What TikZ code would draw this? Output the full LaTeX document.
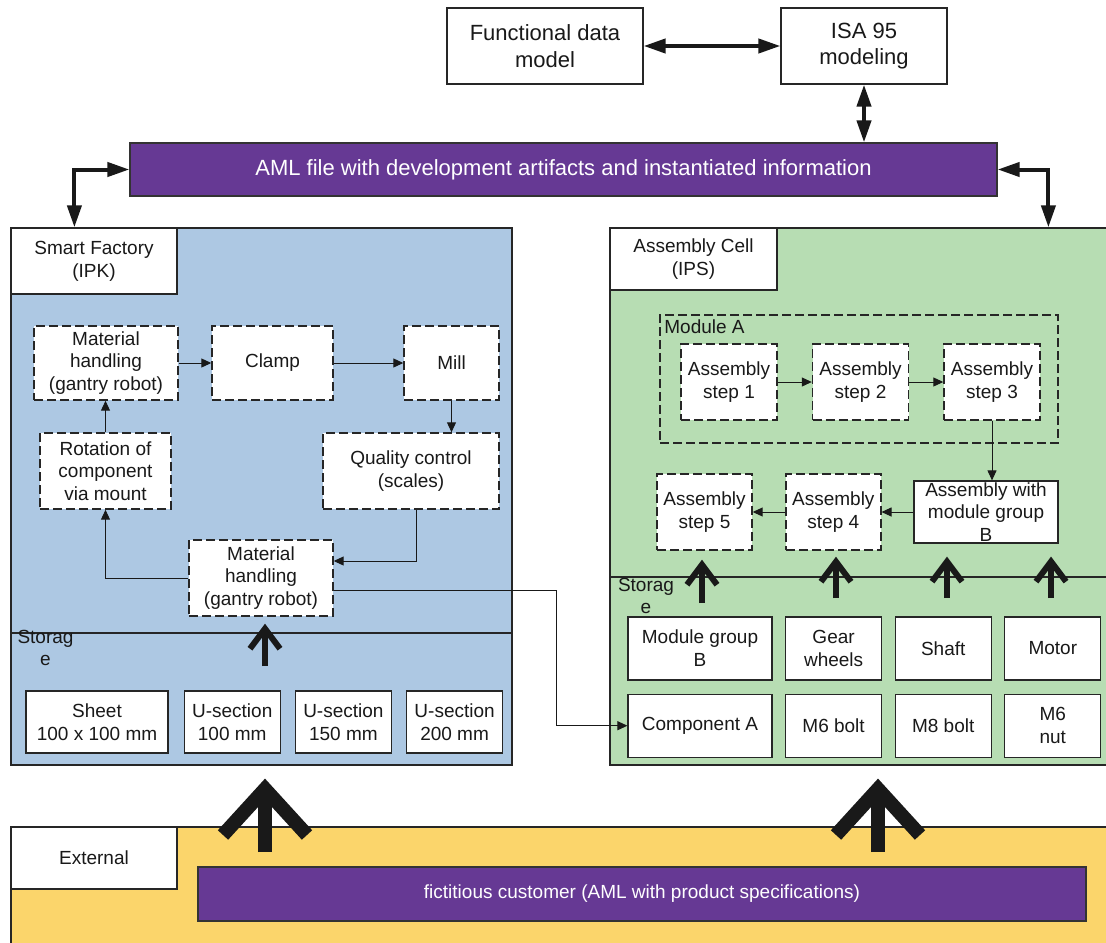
\documentclass[tikz,border=0pt]{standalone}
\usepackage{fontspec}
\setmainfont{Liberation Sans}
\usetikzlibrary{arrows.meta, positioning}
\definecolor{factoryblue}{RGB}{173,200,227}
\definecolor{cellgreen}{RGB}{183,221,179}
\definecolor{extyellow}{RGB}{251,213,107}
\definecolor{amlpurple}{RGB}{102,57,148}

\begin{document}
\begin{tikzpicture}[
    x=0.5pt, y=-0.5pt,
    node distance=7pt,
    font=\fontsize{9.5}{11.4}\selectfont,
    box/.style={rectangle, draw=black!85, fill=white, line width=0.6pt, align=center, inner sep=0pt, text=black!90},
    proc/.style={box, dash pattern=on 4.5pt off 2pt, line width=0.7pt},
    panel/.style={rectangle, draw=black!85, line width=0.6pt, inner sep=0pt},
    amlbar/.style={rectangle, draw=black!80, fill=amlpurple, text=white, line width=0.6pt, inner sep=0pt},
    bigfont/.style={font=\fontsize{11}{13.2}\selectfont},
    flowarr/.style={-{Triangle[length=5pt,width=4.5pt]}, line width=0.5pt, draw=black!90},
    linkarr/.style={{Triangle[length=11pt,width=7pt]}-{Triangle[length=11pt,width=7pt]}, line width=2pt, draw=black!90},
    feedarr/.style={-{Straight Barb[sharp,length=10pt,width=15pt]}, line width=3pt, draw=black!90},
    supplyarr/.style={-{Straight Barb[sharp,length=23pt,width=42pt]}, line width=7pt, draw=black!90}
]
    \useasboundingbox (0,0) rectangle (1106,942);

    % panels
    \node[panel, fill=factoryblue, minimum width=250.5pt, minimum height=268.5pt] (sf) at (261.5,496.5) {};
    \node[box, minimum width=83pt, minimum height=33pt, anchor=north west] (sflabel) at (sf.north west) {Smart Factory\\(IPK)};
    \draw[black!85, line width=0.6pt] (11,633) -- (512,633);
    \node[align=center, inner sep=0pt, text=black!90] (sfstore) at (45.5,648) {Storag\\e};

    \node[panel, fill=cellgreen, minimum width=250pt, minimum height=268.5pt] (ac) at (860,496.5) {};
    \node[box, minimum width=83.5pt, minimum height=31pt, anchor=north west] (aclabel) at (ac.north west) {Assembly Cell\\(IPS)};
    \draw[black!85, line width=0.6pt] (610,577) -- (1110,577);
    \node[align=center, inner sep=0pt, text=black!90] (acstore) at (646,596) {Storag\\e};

    \node[panel, fill=extyellow, minimum width=549.5pt, minimum height=59.5pt] (ext) at (560.5,886.5) {};
    \node[box, minimum width=83pt, minimum height=31pt, anchor=north west] (extlabel) at (ext.north west) {External};
    \node[amlbar, minimum width=444pt, minimum height=27pt] (customer) at (642,894) {fictitious customer (AML with product specifications)};

    % top
    \node[box, bigfont, minimum width=98pt, minimum height=38pt] (fdm) at (545,46) {Functional data\\model};
    \node[box, bigfont, minimum width=83pt, minimum height=38pt] (isa) at (864,46) {ISA 95\\modeling};
    \node[amlbar, bigfont, minimum width=433.5pt, minimum height=26.5pt] (aml) at (563.5,169.5) {AML file with development artifacts and instantiated information};

    \draw[linkarr] (fdm.east) -- (isa.west);
    \draw[linkarr] (isa.south) -- (isa.south |- aml.north);
    \draw[linkarr] (aml.west) -| ([xshift=32pt]sf.north west);
    \draw[linkarr] (aml.east) -| ([xshift=219.5pt]ac.north west);

    % smart factory
    \node[proc, minimum width=72pt, minimum height=37pt] (mh1) at (106,363) {Material\\handling\\(gantry robot)};
    \node[proc, minimum width=60.5pt, minimum height=37pt] (clamp) at (272.5,363) {Clamp};
    \node[proc, minimum width=47.5pt, minimum height=37pt] (mill) at (451.5,363) {Mill};
    \node[proc, minimum width=65.5pt, minimum height=38pt] (rot) at (105.5,471) {Rotation of\\component\\via mount};
    \node[proc, minimum width=88pt, minimum height=38pt] (qc) at (411,471) {Quality control\\(scales)};
    \node[proc, minimum width=72pt, minimum height=38pt] (mh2) at (261,578) {Material\\handling\\(gantry robot)};

    \node[box, minimum width=71pt, minimum height=31pt] (sheet) at (97,722) {Sheet\\100 x 100 mm};
    \node[box, minimum width=48pt, minimum height=31pt, right=7.5pt of sheet] (u100) {U-section\\100 mm};
    \node[box, minimum width=48pt, minimum height=31pt, right=of u100] (u150) {U-section\\150 mm};
    \node[box, minimum width=48pt, minimum height=31pt, right=of u150] (u200) {U-section\\200 mm};

    \draw[flowarr] (mh1.east) -- (clamp.west);
    \draw[flowarr] (clamp.east) -- (mill.west);
    \draw[flowarr] (mill.south) -- (mill.south |- qc.north);
    \draw[flowarr] ([xshift=2.5pt]qc.south) |- ([yshift=8.5pt]mh2.east);
    \draw[flowarr] (mh2.west) -| (rot.south);
    \draw[flowarr] (rot.north) -- (rot.north |- mh1.south);

    % assembly cell
    \node[proc, fill=none, minimum width=199pt, minimum height=64pt] (moda) at (859,379) {};
    \node[anchor=west, inner sep=0pt, text=black!90] (modalabel) at (664,327) {Module A};
    \node[proc, minimum width=48pt, minimum height=38pt] (s1) at (729,382) {Assembly\\step 1};
    \node[proc, minimum width=48pt, minimum height=38pt] (s2) at (860.5,382) {Assembly\\step 2};
    \node[proc, minimum width=48pt, minimum height=38pt] (s3) at (992,382) {Assembly\\step 3};
    \node[proc, minimum width=47.5pt, minimum height=38pt] (s5) at (704.5,512) {Assembly\\step 5};
    \node[proc, minimum width=47.5pt, minimum height=38pt] (s4) at (833.3,512) {Assembly\\step 4};
    \node[box, minimum width=72pt, minimum height=31pt] (awb) at (986,512) {Assembly with\\module group\\B};

    \draw[flowarr] (s1.east) -- (s2.west);
    \draw[flowarr] (s2.east) -- (s3.west);
    \draw[flowarr] (s3.south) -- (s3.south |- awb.north);
    \draw[flowarr] (awb.west) -- (s4.east);
    \draw[flowarr] (s4.west) -- (s5.east);

    \node[box, minimum width=72pt, minimum height=31.5pt] (modb) at (700,648.5) {Module group\\B};
    \node[box, minimum width=48pt, minimum height=31.5pt, right=6.2pt of modb] (gear) {Gear\\wheels};
    \node[box, minimum width=48pt, minimum height=31.5pt, right=6.2pt of gear] (shaft) {Shaft};
    \node[box, minimum width=48pt, minimum height=31.5pt, right=6.2pt of shaft] (motor) {Motor};
    \node[box, minimum width=72pt, minimum height=31.5pt, below=6.5pt of modb] (compa) {Component A};
    \node[box, minimum width=48pt, minimum height=31.5pt, right=6.2pt of compa] (m6bolt) {M6 bolt};
    \node[box, minimum width=48pt, minimum height=31.5pt, right=6.2pt of m6bolt] (m8bolt) {M8 bolt};
    \node[box, minimum width=48pt, minimum height=31.5pt, right=6.2pt of m8bolt] (m6nut) {M6\\nut};

    \draw[flowarr] ([yshift=-6pt]mh2.east) -| ([xshift=-35.5pt]compa.west) -- (compa.west);

    % storage feeds
    \coordinate (insf) at (265,666);
    \coordinate (in5) at (702,603);
    \coordinate (in4) at (836,598);
    \coordinate (inb) at (947,598);
    \coordinate (inr) at (1051,598);
    \draw[feedarr] (insf) -- ([yshift=-3.5pt]insf |- mh2.south);
    \draw[feedarr] (in5) -- ([yshift=-4.5pt]in5 |- s5.south);
    \draw[feedarr] (in4) -- ([yshift=-3pt]in4 |- s4.south);
    \draw[feedarr] (inb) -- ([yshift=-6.5pt]inb |- awb.south);
    \draw[feedarr] (inr) -- ([yshift=-6.5pt]inr |- awb.south);

    % external supply
    \coordinate (supsf) at (265,852);
    \coordinate (supac) at (878,852);
    \draw[supplyarr] (supsf) -- ([yshift=-6.5pt]supsf |- sf.south);
    \draw[supplyarr] (supac) -- ([yshift=-6.5pt]supac |- ac.south);
\end{tikzpicture}
\end{document}
